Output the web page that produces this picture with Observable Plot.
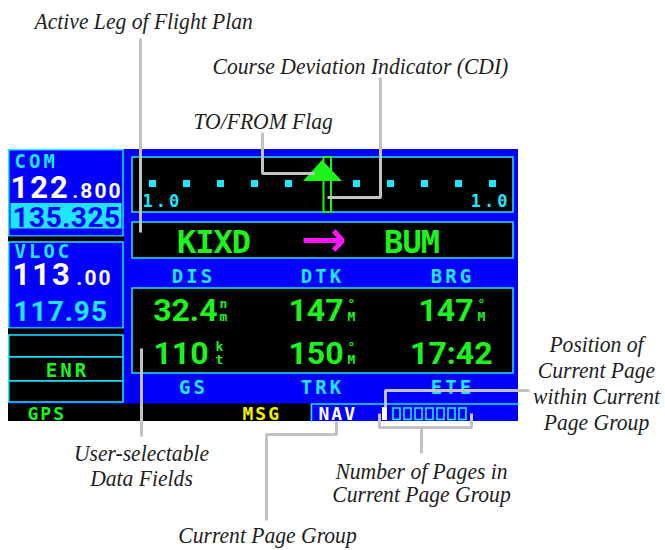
<!DOCTYPE html>
<html><head><meta charset="utf-8">
<script src="https://cdn.jsdelivr.net/npm/d3@7"></script>
<script src="https://cdn.jsdelivr.net/npm/@observablehq/plot@0.6"></script>
<style>
html,body{margin:0;padding:0;background:#fff;}
[aria-description="ls3"] text{letter-spacing:3px}
[aria-description="ls2"] text{letter-spacing:2px}
[aria-description="ls1"] text{letter-spacing:1px}
[aria-description="ls05"] text{letter-spacing:0.5px}
[aria-description="lsm1"] text{letter-spacing:-1px}
</style></head><body><div id="chart"></div>
<script>
// ---------------- data ----------------
const comLabel = "COM";
const comFreqs = ["122.800", "135.325"];      // active, standby
const vlocLabel = "VLOC";
const vlocFreqs = ["113.00", "117.95"];       // active, standby
const cdiMode = "ENR";
const cdiDots = [-5, -4, -3, -2, -1, 1, 2, 3, 4, 5];
const cdiScaleLabels = ["1.0", "1.0"];
const legFrom = "KIXD";
const legTo = "BUM";
const topFieldLabels = ["DIS", "DTK", "BRG"];
const topFieldValues = ["32.4", "147", "147"];
const topFieldUnits = [["n", "m"], ["°", "M"], ["°", "M"]];
const bottomFieldLabels = ["GS", "TRK", "ETE"];
const bottomFieldValues = ["110", "150", "17:42"];
const bottomFieldUnits = [["k", "t"], ["°", "M"], ["", ""]];
const statusItems = ["GPS", "MSG", "NAV"];
const pageCount = 8;
const currentPage = 1;
const noteActiveLeg = ["Active Leg of Flight Plan"];
const noteCdi = ["Course Deviation Indicator (CDI)"];
const noteFlag = ["TO/FROM Flag"];
const noteFields = ["User-selectable", "Data Fields"];
const noteNumPages = ["Number of Pages in", "Current Page Group"];
const notePageGroup = ["Current Page Group"];
const notePosition = ["Position of", "Current Page", "within Current", "Page Group"];

// ---------------- layout & style ----------------
const W = 665, H = 550;
const C = {blue: "#0000fc", cyan: "#1ee6ff", green: "#1cf51c", black: "#000", white: "#fff",
  magenta: "#ff14ff", yellow: "#f2f200", gray: "#c2c2c2", ink: "#1e1e1e"};
const MONO = "DejaVu Sans Mono", BIG = "Roboto", NOTE = "Liberation Serif";
const colX = [193, 322, 452];
const valEnd = [[217, 343, 473], [208, 343, 492]];
const unitX = [[223, 351, 481], [219, 351, 481]];
const rowBase = [320, 363];
const cdiCenter = 322, cdiStep = 34, cdiDotY = 183;
const noteCondense = 0.9;

const box = (x1, x2, y1, y2, fill, stroke = "none", sw = 1.5) =>
  Plot.rect([{x1, x2, y1, y2}], {x1: "x1", x2: "x2", y1: "y1", y2: "y2", fill, stroke, strokeWidth: sw});
const txt = (rows, o) => Plot.text(rows, {x: "x", y: "y", text: "t", lineAnchor: "bottom", ...o});

const marks = [];
// screen background
marks.push(box(8, 518, 149, 421, C.blue));
// left column
marks.push(box(8.75, 123, 149.75, 236, C.blue, C.cyan));
marks.push(box(10.5, 121.5, 203, 228.5, C.cyan));
marks.push(box(8, 124, 236.5, 241.5, C.black));
marks.push(box(8.75, 123, 242, 328, C.blue, C.cyan));
marks.push(box(8, 124, 328.5, 334.5, C.black));
[[335, 357], [357, 381], [381, 402]].forEach(([a, b]) => marks.push(box(8.75, 123, a, b, C.black, C.cyan)));
// main windows
marks.push(box(132, 513, 157, 212, C.black, C.cyan));
marks.push(box(132, 513, 222, 258, C.black, C.cyan));
marks.push(box(132, 513, 288, 373, C.black, C.cyan));
// status bar
marks.push(box(8, 310, 403.5, 421, C.black));
marks.push(Plot.line([{x: 518, y: 403.5}, {x: 311, y: 403.5}, {x: 311, y: 421}], {x: "x", y: "y", stroke: C.cyan, strokeWidth: 1.5}));

// COM / VLOC text
const [comA, comB] = [comFreqs[0].split("."), comFreqs[1]];
const [vlA, vlB] = [vlocFreqs[0].split("."), vlocFreqs[1]];
marks.push(txt([{x: 14, y: 167, t: comLabel}, {x: 14, y: 257, t: vlocLabel}],
  {fill: C.cyan, fontFamily: MONO, fontWeight: "bold", fontSize: 19, textAnchor: "start", ariaDescription: "ls3"}));
marks.push(txt([{x: 10, y: 197, t: comA[0]}, {x: 12, y: 284, t: vlA[0]}],
  {fill: C.white, fontFamily: BIG, fontWeight: "bold", fontSize: 31, textAnchor: "start", ariaDescription: "ls2"}));
marks.push(txt([{x: 122, y: 197, t: "." + comA[1]}, {x: 112, y: 284, t: "." + vlA[1]}],
  {fill: C.white, fontFamily: BIG, fontWeight: "bold", fontSize: 21, textAnchor: "end", ariaDescription: "ls2"}));
marks.push(txt([{x: 66, y: 226, t: comB}],
  {fill: C.blue, fontFamily: BIG, fontWeight: "bold", fontSize: 28, textAnchor: "middle", ariaDescription: "ls05"}));
marks.push(txt([{x: 13, y: 320, t: vlB}],
  {fill: C.cyan, fontFamily: BIG, fontWeight: "bold", fontSize: 28, textAnchor: "start", ariaDescription: "ls1"}));
marks.push(txt([{x: 67, y: 376, t: cdiMode}],
  {fill: C.green, fontFamily: MONO, fontWeight: "bold", fontSize: 19, textAnchor: "middle", ariaDescription: "ls3"}));

// CDI
marks.push(Plot.dot(cdiDots, {x: (d) => cdiCenter + d * cdiStep, y: () => cdiDotY, symbol: "square", r: 4, fill: C.cyan}));
marks.push(txt([{x: 142, y: 206, t: cdiScaleLabels[0]}], {fill: C.cyan, fontFamily: MONO, fontWeight: "bold", fontSize: 17, textAnchor: "start", ariaDescription: "ls3"}));
marks.push(txt([{x: 510, y: 206, t: cdiScaleLabels[1]}], {fill: C.cyan, fontFamily: MONO, fontWeight: "bold", fontSize: 17, textAnchor: "end", ariaDescription: "ls3"}));
marks.push(box(323.5, 331, 157, 212, C.black, C.green, 2));
marks.push(Plot.areaY([{x: 303, a: 181, b: 181}, {x: 322, a: 160, b: 181}, {x: 342, a: 181, b: 181}],
  {x: "x", y1: "a", y2: "b", fill: C.green}));

// active leg
marks.push(txt([{x: 213, y: 252, t: legFrom}, {x: 411, y: 252, t: legTo}],
  {fill: C.green, fontFamily: MONO, fontWeight: "bold", fontSize: 32, textAnchor: "middle", ariaDescription: "lsm1"}));
marks.push(Plot.arrow([{x1: 303, x2: 342, y: 240}], {x1: "x1", x2: "x2", y1: "y", y2: "y", stroke: C.magenta, strokeWidth: 5, headLength: 12, headAngle: 95, strokeLinecap: "butt"}));

// data fields
marks.push(txt([...topFieldLabels.map((t, i) => ({x: colX[i], y: 282, t})), ...bottomFieldLabels.map((t, i) => ({x: colX[i], y: 393, t}))],
  {fill: C.cyan, fontFamily: MONO, fontWeight: "bold", fontSize: 19, textAnchor: "middle", ariaDescription: "ls3"}));
const vals = [topFieldValues, bottomFieldValues].flatMap((row, r) => row.map((t, i) => ({x: valEnd[r][i], y: rowBase[r], t})));
marks.push(txt(vals, {fill: C.green, fontFamily: BIG, fontWeight: "bold", fontSize: 32, textAnchor: "end"}));
const units = [topFieldUnits, bottomFieldUnits].flatMap((row, r) => row.flatMap((u, i) => [
  {x: unitX[r][i], y: rowBase[r] - 13, t: u[0]}, {x: unitX[r][i], y: rowBase[r], t: u[1]}]));
marks.push(txt(units, {fill: C.green, fontFamily: MONO, fontWeight: "bold", fontSize: 13, textAnchor: "middle"}));

// status bar
marks.push(txt([{x: 27, y: 419, t: statusItems[0]}], {fill: C.green, fontFamily: MONO, fontWeight: "bold", fontSize: 18, textAnchor: "start", ariaDescription: "ls2"}));
marks.push(txt([{x: 242, y: 419, t: statusItems[1]}], {fill: C.yellow, fontFamily: MONO, fontWeight: "bold", fontSize: 18, textAnchor: "start", ariaDescription: "ls2"}));
marks.push(txt([{x: 318, y: 419, t: statusItems[2]}], {fill: C.white, fontFamily: MONO, fontWeight: "bold", fontSize: 18, textAnchor: "start", ariaDescription: "ls2"}));
const pages = d3.range(1, pageCount + 1);
marks.push(Plot.rect(pages.filter((p) => p === currentPage), {x1: (p) => 382 + (p - 1) * 11, x2: (p) => 387 + (p - 1) * 11, y1: () => 407, y2: () => 420, fill: C.white}));
marks.push(Plot.rect(pages.filter((p) => p !== currentPage), {x1: (p) => 382 + (p - 1) * 11, x2: (p) => 389 + (p - 1) * 11, y1: () => 408, y2: () => 419.5, fill: "none", stroke: C.cyan, strokeWidth: 1.6}));

// leader lines
const leaders = [
  [[140, 38], [140, 232]],
  [[380, 77], [380, 197], [327, 197]],
  [[262, 132], [262, 173], [314, 173]],
  [[141, 348], [141, 436]],
  [[336, 421], [336, 434], [266, 434], [266, 520]],
  [[379, 413], [379, 427], [471, 427], [471, 413]],
  [[421, 427], [421, 453]],
  [[385, 407], [385, 390], [529, 390]]
].flatMap((pts, id) => pts.map(([x, y]) => ({id, x, y})));
marks.push(Plot.line(leaders, {x: "x", y: "y", z: "id", stroke: C.gray, strokeWidth: 3, strokeLinejoin: "miter", strokeLinecap: "butt"}));

// annotations
const notes = [
  ...noteActiveLeg.map((t) => ({x: 34, y: 28, t, a: "start"})),
  ...noteCdi.map((t) => ({x: 212, y: 73, t, a: "start"})),
  ...noteFlag.map((t) => ({x: 193, y: 128, t, a: "start"})),
  ...noteFields.map((t, i) => ({x: 141, y: 460 + i * 25, t, a: "middle"})),
  ...noteNumPages.map((t, i) => ({x: 421, y: 478 + i * 23, t, a: "middle"})),
  ...notePageGroup.map((t) => ({x: 267, y: 542, t, a: "middle"})),
  ...notePosition.map((t, i) => ({x: 596, y: 351 + i * 26, t, a: "middle"}))
];
marks.push(txt(notes.filter((d) => d.a === "start"), {fill: C.ink, fontFamily: NOTE, fontStyle: "italic", fontSize: 24, textAnchor: "start", ariaDescription: "note"}));
marks.push(txt(notes.filter((d) => d.a === "middle"), {fill: C.ink, fontFamily: NOTE, fontStyle: "italic", fontSize: 24, textAnchor: "middle", ariaDescription: "note"}));

const chart = Plot.plot({
  width: W, height: H, margin: 0,
  x: {domain: [0, W], range: [0, W], axis: null},
  y: {domain: [0, H], range: [0, H], axis: null},
  style: {background: "#fff"},
  marks
});
document.getElementById("chart").append(chart);
// condense the serif annotation lines (narrow italic face in the original)
d3.select(chart).selectAll('g[aria-description="note"] text').each(function () {
  const len = this.getComputedTextLength();
  this.setAttribute("textLength", (len * noteCondense).toFixed(1));
  this.setAttribute("lengthAdjust", "spacingAndGlyphs");
});
</script></body></html>
